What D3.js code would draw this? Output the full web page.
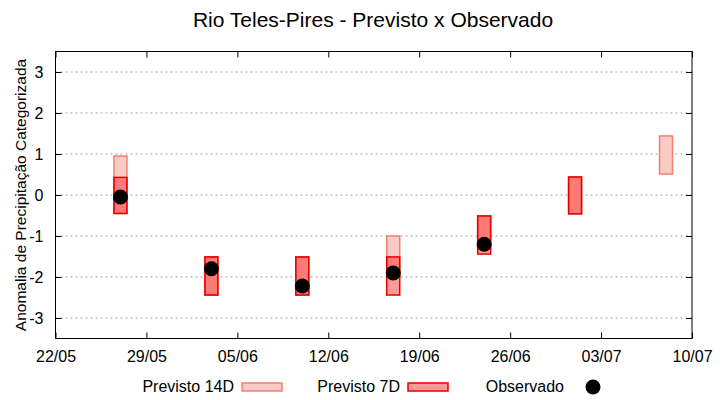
<!DOCTYPE html>
<html><head><meta charset="utf-8">
<script src="https://cdn.jsdelivr.net/npm/d3@7"></script>
<style>body{margin:0;background:#fff;} text{font-family:"Liberation Sans",Arial,sans-serif;}</style>
</head><body><svg id="c" width="720" height="400"></svg>
<script>
const dates = ["2025-05-27","2025-06-03","2025-06-10","2025-06-17","2025-06-24","2025-07-01","2025-07-08"];
const prev14Low  = [-0.45, -2.44, -2.44, -2.0, -1.3, -0.46, 0.51];
const prev14High = [ 0.95, -1.51, -1.51, -1.0, -0.51, 0.44, 1.44];
const prev7Low   = [-0.45, -2.44, -2.44, -2.44, -1.44, -0.46, null];
const prev7High  = [ 0.43, -1.51, -1.51, -1.51, -0.51, 0.44, null];
const observed   = [-0.05, -1.80, -2.22, -1.90, -1.20, null, null];
const yTicks = [-3,-2,-1,0,1,2,3];
const xTickDates = ["2025-05-22","2025-05-29","2025-06-05","2025-06-12","2025-06-19","2025-06-26","2025-07-03","2025-07-10"];

const parse = d3.utcParse("%Y-%m-%d");
const svg = d3.select("#c");
const L=55.5, R=692, T=51.5, B=338.5;
const x = d3.scaleUtc().domain([parse("2025-05-22"), parse("2025-07-10")]).range([L,R]);
const y = d3.scaleLinear().domain([-3.5,3.5]).range([B,T]);
const day = 86400000;

// grid
svg.append("g").selectAll("line").data(yTicks).join("line")
  .attr("x1",L).attr("x2",R).attr("y1",d=>y(d)).attr("y2",d=>y(d))
  .attr("stroke","#a0a0a0").attr("stroke-width",1).attr("stroke-dasharray","2,3");

// axes
const fmt = d3.utcFormat("%d/%m");
const xt = xTickDates.map(parse);
const axB = d3.axisBottom(x).tickValues(xt).tickFormat(fmt).tickSizeInner(-6).tickSizeOuter(0).tickPadding(12);
const gB = svg.append("g").attr("transform",`translate(0,${B})`).call(axB);
const axT = d3.axisTop(x).tickValues(xt).tickFormat("").tickSizeInner(-6).tickSizeOuter(0);
const gT = svg.append("g").attr("transform",`translate(0,${T})`).call(axT);
const axL = d3.axisLeft(y).tickValues(yTicks).tickFormat(d=>String(d)).tickSizeInner(-6).tickSizeOuter(0).tickPadding(12);
const gL = svg.append("g").attr("transform",`translate(${L},0)`).call(axL);
const axR = d3.axisRight(y).tickValues(yTicks).tickFormat("").tickSizeInner(-6).tickSizeOuter(0);
const gR = svg.append("g").attr("transform",`translate(${R},0)`).call(axR);
[gB,gT,gL,gR].forEach(g=>{
  g.select(".domain").remove();
  g.selectAll("line").attr("stroke","#000");
  g.selectAll("text").attr("font-size",16).attr("fill","#000").attr("font-family","Liberation Sans, Arial, sans-serif");
});
svg.append("rect").attr("x",L).attr("y",T).attr("width",R-L).attr("height",B-T)
  .attr("fill","none").attr("stroke","#000").attr("stroke-width",1);

// bars
const bx = d=>x(new Date(parse(d).getTime()-day/2));
const bw = d=>x(new Date(parse(d).getTime()+day/2)) - bx(d);
const g14 = svg.append("g");
dates.forEach((d,i)=>{
  if(prev14Low[i]==null) return;
  g14.append("rect").attr("x",bx(d)).attr("width",bw(d))
    .attr("y",y(prev14High[i])).attr("height",y(prev14Low[i])-y(prev14High[i]))
    .attr("fill","#fccbc6").attr("stroke","#f08070").attr("stroke-width",1.5);
});
const g7 = svg.append("g");
dates.forEach((d,i)=>{
  if(prev7Low[i]==null) return;
  g7.append("rect").attr("x",bx(d)).attr("width",bw(d))
    .attr("y",y(prev7High[i])).attr("height",y(prev7Low[i])-y(prev7High[i]))
    .attr("fill","rgba(255,0,0,0.4)").attr("stroke","#e60000").attr("stroke-width",1.5);
});
// observed
svg.append("g").selectAll("circle").data(dates.map((d,i)=>({d,v:observed[i]})).filter(o=>o.v!=null))
  .join("circle").attr("cx",o=>x(parse(o.d))).attr("cy",o=>y(o.v)).attr("r",7.5).attr("fill","#000");

// title
svg.append("text").attr("x",373).attr("y",27).attr("text-anchor","middle").attr("font-size",21).text("Rio Teles-Pires - Previsto x Observado");
// y label
svg.append("text").attr("transform",`translate(26,${(T+B)/2}) rotate(-90)`).attr("text-anchor","middle").attr("font-size",15.5).text("Anomalia de Precipitação Categorizada");

// legend
const lg = svg.append("g").attr("font-size",16);
lg.append("text").attr("x",234).attr("y",392).attr("text-anchor","end").text("Previsto 14D");
lg.append("rect").attr("x",242).attr("y",383).attr("width",40).attr("height",8).attr("fill","#fccbc6").attr("stroke","#f08070").attr("stroke-width",1.5);
lg.append("text").attr("x",400).attr("y",392).attr("text-anchor","end").text("Previsto 7D");
lg.append("rect").attr("x",408).attr("y",383).attr("width",40).attr("height",8).attr("fill","rgba(255,0,0,0.4)").attr("stroke","#e60000").attr("stroke-width",1.5);
lg.append("text").attr("x",564).attr("y",392).attr("text-anchor","end").text("Observado");
lg.append("circle").attr("cx",593).attr("cy",387).attr("r",7.5).attr("fill","#000");
</script></body></html>
